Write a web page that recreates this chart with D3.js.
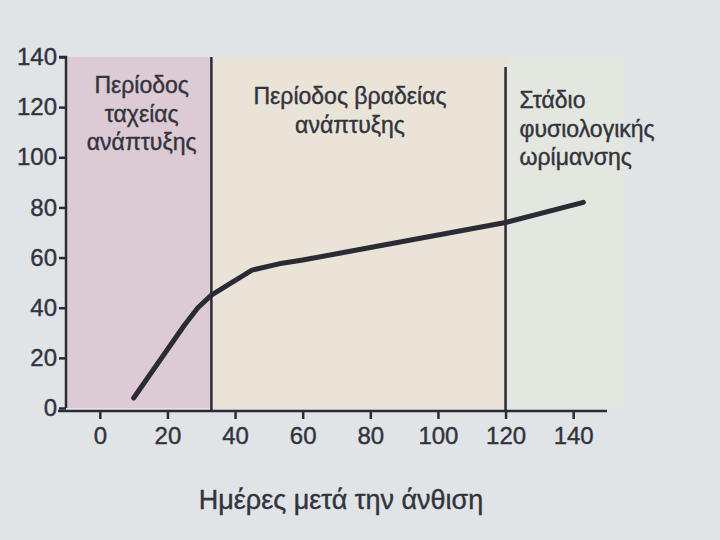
<!DOCTYPE html>
<html><head><meta charset="utf-8">
<script src="https://cdn.jsdelivr.net/npm/d3@7"></script>
<style>
body{margin:0;background:#dfe3e6;}
svg{display:block;font-family:"Liberation Sans",Arial,sans-serif;}
</style></head>
<body>
<svg id="c" width="720" height="540"></svg>
<script>
// Data
const days = [10, 25, 29, 33, 45, 53, 60, 80, 100, 120, 143];
const values = [4, 33, 40, 45, 55, 57.5, 59, 64, 69, 74, 82];
const xTicks = [0, 20, 40, 60, 80, 100, 120, 140];
const yTicks = [0, 20, 40, 60, 80, 100, 120, 140];
const periodStarts = [-10, 33, 120];
const periodEnds = [33, 120, 155];
const periodColors = ["#dccbd5", "#e9e3d8", "#e4e6e0"];
const periodLabels = [
  ["Περίοδος", "ταχείας", "ανάπτυξης"],
  ["Περίοδος βραδείας", "ανάπτυξης"],
  ["Στάδιο", "φυσιολογικής", "ωρίμανσης"]
];
const xTitle = "Ημέρες μετά την άνθιση";

const svg = d3.select("#c");
const x = d3.scaleLinear().domain([-10, 150]).range([66, 607]);
const y = d3.scaleLinear().domain([0, 140]).range([408, 57]);
const ink = "#2b2b35";
const txt = "#33333c";

svg.append("rect").attr("width",720).attr("height",540).attr("fill","#e0e4e7");

// period shading
svg.selectAll("rect.period").data(periodStarts).enter().append("rect")
  .attr("class","period")
  .attr("x", d => x(d))
  .attr("y", y(140))
  .attr("width", (d,i) => x(periodEnds[i]) - x(d))
  .attr("height", y(0) - y(140))
  .attr("fill", (d,i) => periodColors[i]);

// vertical separators
svg.selectAll("line.sep").data(periodStarts.slice(1)).enter().append("line")
  .attr("x1", d => x(d)).attr("x2", d => x(d))
  .attr("y1", (d,i) => i === 0 ? y(140) : y(136)).attr("y2", y(0)+3)
  .attr("stroke", ink).attr("stroke-width", 2.5);

// axes
const yAxis = d3.axisLeft(y).tickValues(yTicks).tickSize(7).tickPadding(2);
const gy = svg.append("g").attr("transform", `translate(${x(-10)},0)`).call(yAxis);
gy.select(".domain").attr("stroke", ink).attr("stroke-width", 2.5).attr("d", `M-7,${y(140)}H0V${y(0)}`);
gy.selectAll(".tick line").attr("stroke", ink).attr("stroke-width", 2.5);
gy.selectAll(".tick text").attr("fill", txt).attr("font-size", 24)
  .attr("stroke", txt).attr("stroke-width", 0.4);

const xAxis = d3.axisBottom(x).tickValues(xTicks).tickSize(8).tickPadding(8);
const gx = svg.append("g").attr("transform", `translate(0,${y(0)+3})`).call(xAxis);
gx.select(".domain").attr("stroke", ink).attr("stroke-width", 2.5).attr("d", `M${x(-10)-8},0H${x(150)}`);
gx.selectAll(".tick line").attr("stroke", ink).attr("stroke-width", 2.5);
gx.selectAll(".tick text").attr("fill", txt).attr("font-size", 24)
  .attr("stroke", txt).attr("stroke-width", 0.4);

// curve
const line = d3.line().x(d => x(d)).y((d,i) => y(values[i])).curve(d3.curveLinear);
svg.append("path").datum(days).attr("d", line)
  .attr("fill","none").attr("stroke", ink).attr("stroke-width", 5)
  .attr("stroke-linecap","round").attr("stroke-linejoin","round");

// period labels
const labelPos = [
  {cx: (x(-10)+x(33))/2 + 3, y0: 93, anchor: "middle"},
  {cx: 350, y0: 104, anchor: "middle"},
  {cx: x(120)+14, y0: 108, anchor: "start"}
];
periodLabels.forEach((lines, i) => {
  const t = svg.append("text").attr("fill", txt).attr("font-size", 23)
    .attr("stroke", txt).attr("stroke-width", 0.4)
    .attr("text-anchor", labelPos[i].anchor);
  lines.forEach((s, j) => {
    t.append("tspan").attr("x", labelPos[i].cx).attr("y", labelPos[i].y0 + j*28.5).text(s);
  });
});

// x title
svg.append("text").attr("x", 341).attr("y", 509).attr("text-anchor","middle")
  .attr("fill", txt).attr("stroke", txt).attr("stroke-width", 0.4)
  .attr("font-size", 27).text(xTitle);
</script>
</body></html>
